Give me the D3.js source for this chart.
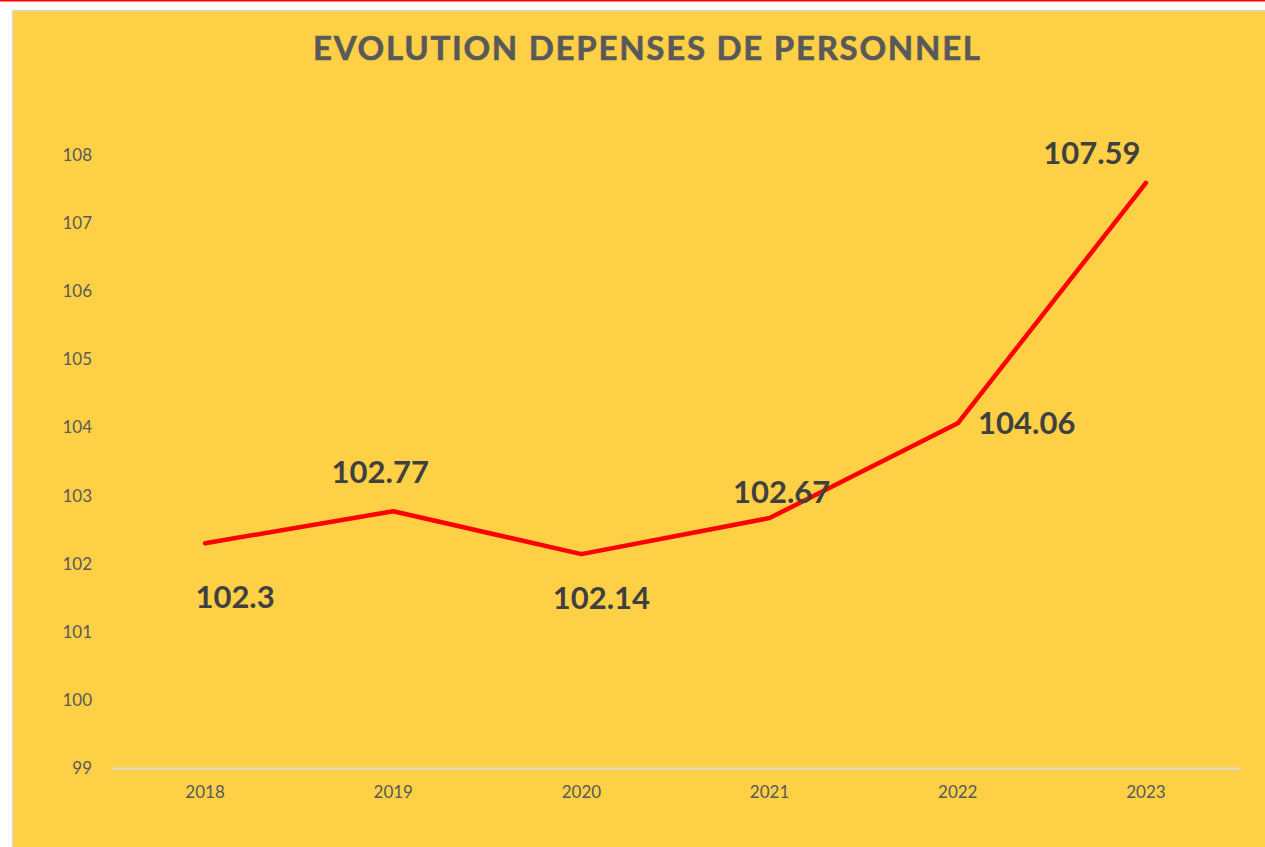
<!DOCTYPE html>
<html>
<head>
<meta charset="utf-8">
<script src="https://cdn.jsdelivr.net/npm/d3@7"></script>
<style>
  body { margin: 0; background: #fff; }
  svg { display: block; }
</style>
</head>
<body>
<svg width="1265" height="847"></svg>
<script>
// data
years = ['2018', '2019', '2020', '2021', '2022', '2023'];
values = [102.3, 102.77, 102.14, 102.67, 104.06, 107.59];
yTicks = [99, 100, 101, 102, 103, 104, 105, 106, 107, 108];
title = 'EVOLUTION DEPENSES DE PERSONNEL';

// value labels were nudged by hand in the original, offsets from each point
labelDx = [30, -13, 20, 12, 69, -54];
labelDy = [54, -39, 44, -26, 0, -30];

svg = d3.select('svg');
W = 1265; H = 847;

// red rule at the very top, then the yellow panel
svg.append('rect').attr('x', 0).attr('y', 0).attr('width', W).attr('height', 1.5).attr('fill', '#ff0000');
svg.append('rect')
  .attr('x', 12.5).attr('y', 10.5).attr('width', W).attr('height', H)
  .attr('fill', '#fed046').attr('stroke', '#d9d9d9').attr('stroke-width', 1.5);

font = "'Gill Sans', 'Gill Sans MT', Lato, sans-serif";

svg.append('text')
  .attr('x', 313).attr('y', 59.5)
  .attr('textLength', 667).attr('lengthAdjust', 'spacing')
  .attr('font-family', font).attr('font-weight', 'bold')
  .attr('font-size', 33).attr('fill', '#595959')
  .attr('stroke', '#595959').attr('stroke-width', 0.6)
  .text(title);

margin = { left: 111, right: 25 };

x = d3.scaleBand().domain(years).range([margin.left, W - margin.right]);
y = d3.scaleLinear().domain([99, 108]).range([768, 155]);

// y tick labels (no axis line, no gridlines)
svg.append('g').selectAll('text')
  .data(yTicks)
  .enter().append('text')
    .attr('x', 92).attr('y', d => y(d))
    .attr('dy', '0.35em')
    .attr('text-anchor', 'end')
    .attr('font-family', font).attr('font-size', 17).attr('fill', '#595959')
    .text(d => d);

// category axis
xAxis = svg.append('g')
  .attr('transform', `translate(0,${y(99)})`)
  .call(d3.axisBottom(x).tickSize(0).tickPadding(18));
xAxis.select('.domain').attr('stroke', '#d9d9d9').attr('stroke-width', 2);
xAxis.selectAll('text')
  .attr('font-family', font).attr('font-size', 17).attr('fill', '#595959');

cx = d => x(d) + x.bandwidth() / 2;

line = d3.line()
  .x((d, i) => cx(years[i]))
  .y(d => y(d));

svg.append('path')
  .datum(values)
  .attr('d', line)
  .attr('fill', 'none')
  .attr('stroke', '#ff0000')
  .attr('stroke-width', 4.5)
  .attr('stroke-linecap', 'round')
  .attr('stroke-linejoin', 'round');

// value labels
svg.append('g').selectAll('text')
  .data(values)
  .enter().append('text')
    .attr('x', (d, i) => cx(years[i]) + labelDx[i])
    .attr('y', (d, i) => y(d) + labelDy[i])
    .attr('dy', '0.35em')
    .attr('text-anchor', 'middle')
    .attr('font-family', font).attr('font-weight', 'bold')
    .attr('font-size', 31).attr('fill', '#404040')
    .text(d => d);
</script>
</body>
</html>
